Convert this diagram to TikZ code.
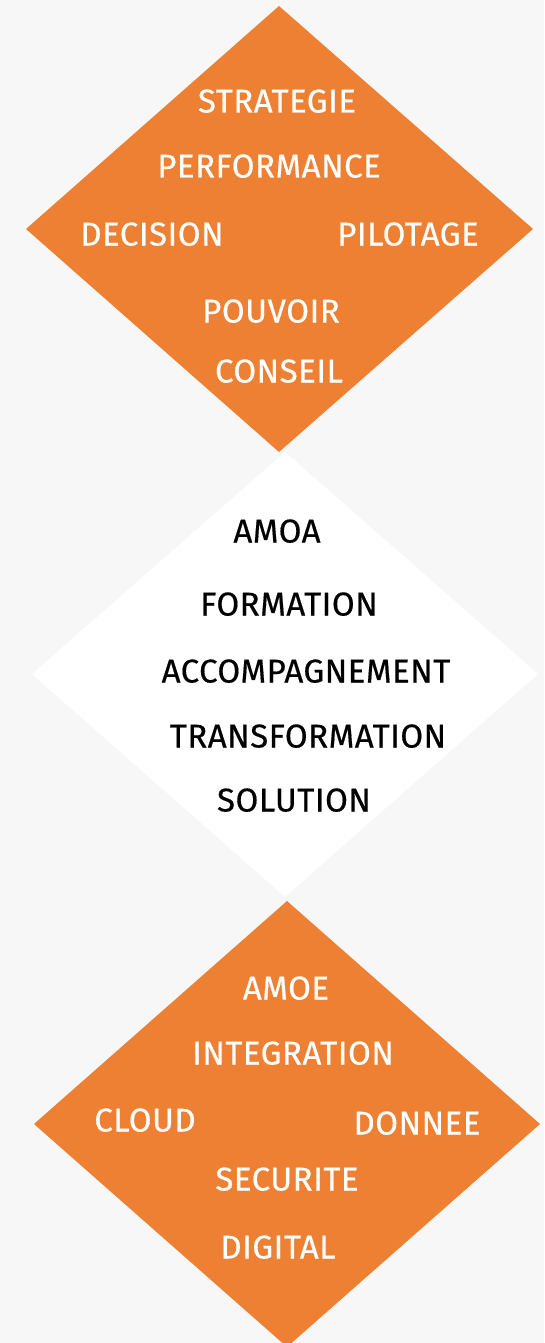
\documentclass[tikz,border=0pt]{standalone}
\usepackage{fontspec}
\setmainfont{Fira Sans}[UprightFeatures={FakeBold=0.45}, LetterSpace=1.5]
\definecolor{bgrey}{RGB}{247,247,247}
\definecolor{orng}{RGB}{237,128,51}
\tikzset{
    word/.style={font=\fontsize{33}{40}\selectfont, text=white, inner sep=0pt, text height=23pt, text depth=0pt, anchor=center},
    darkword/.style={word, text=black}
}
\begin{document}
\begin{tikzpicture}[x=1pt, y=-1pt]
        \useasboundingbox (0,0) rectangle (544,1343);
        \fill[bgrey] (0,0) rectangle (544,1343);

        \fill[orng] (279,6) -- (533,229) -- (279,452) -- (26,229) -- cycle;
        \fill[white] (285,452) -- (538,674) -- (285,897) -- (32,674) -- cycle;
        \fill[orng] (287,901) -- (540,1124) -- (287,1347) -- (34,1124) -- cycle;

        % top
        \node[word] (strategie) at (277,101) {STRATEGIE};
        \node[word] (performance) at (269,166) {PERFORMANCE};
        \node[word] (decision) at (152,234) {DECISION};
        \node[word] (pilotage) at (408,234) {PILOTAGE};
        \node[word] (pouvoir) at (271,311) {POUVOIR};
        \node[word] (conseil) at (279,371) {CONSEIL};

        % middle
        \node[darkword] (amoa) at (277,531) {AMOA};
        \node[darkword] (formation) at (289,604) {FORMATION};
        \node[darkword] (accomp) at (306,671) {ACCOMPAGNEMENT};
        \node[darkword] (transfo) at (308,736) {TRANSFORMATION};
        \node[darkword] (solution) at (294,800) {SOLUTION};

        % bottom
        \node[word] (amoe) at (286,988) {AMOE};
        \node[word] (integration) at (293,1053) {INTEGRATION};
        \node[word] (cloud) at (145,1120) {CLOUD};
        \node[word] (donnee) at (417,1123) {DONNEE};
        \node[word] (securite) at (287,1179) {SECURITE};
        \node[word] (digital) at (278,1247) {DIGITAL};
    \end{tikzpicture}
\end{document}
